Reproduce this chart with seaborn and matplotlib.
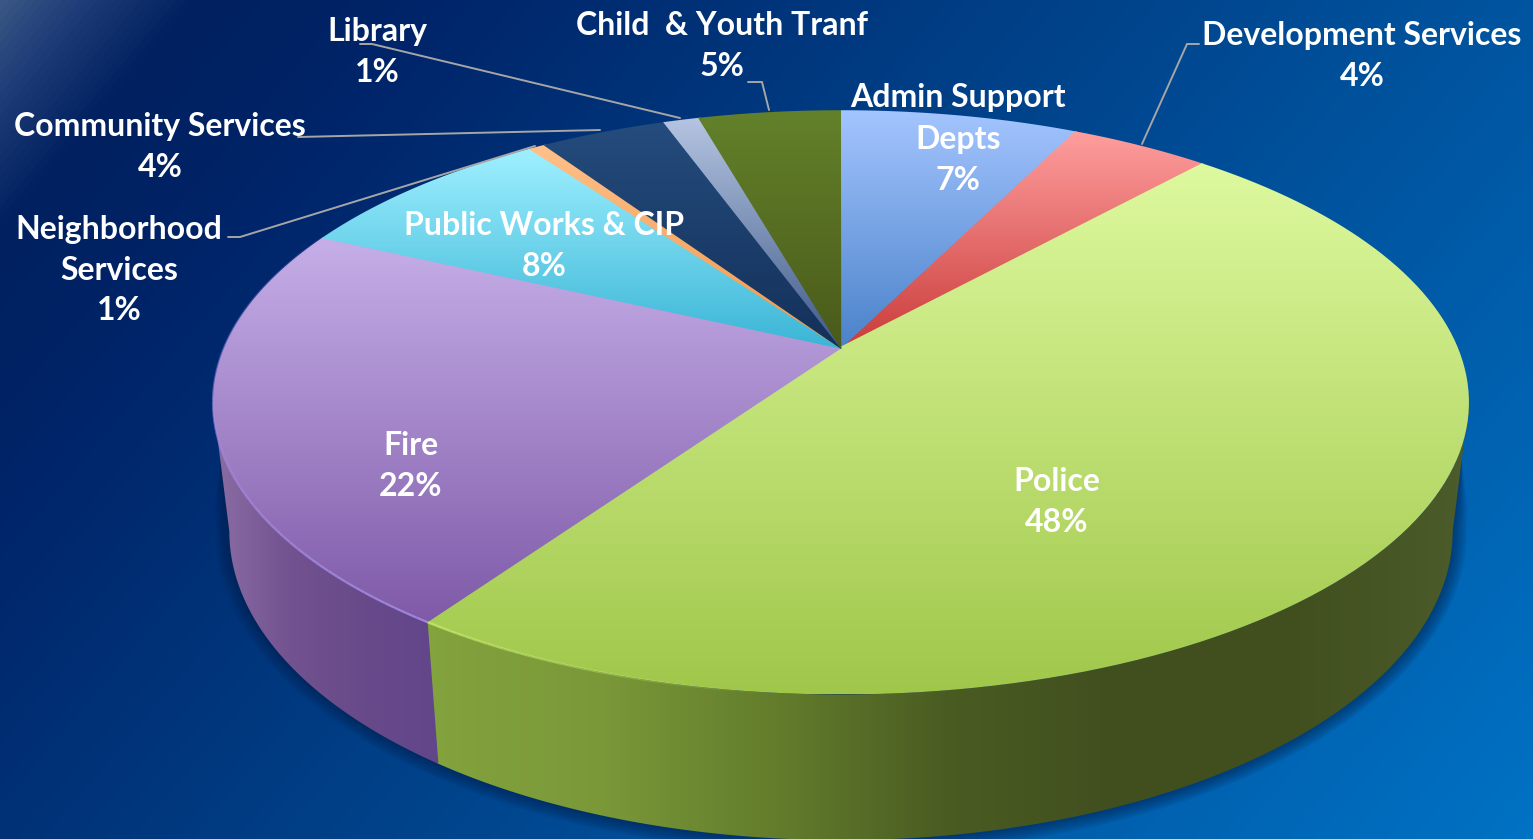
import numpy as np
import seaborn as sns
import matplotlib
matplotlib.use('Agg')
import matplotlib.pyplot as plt
from matplotlib.patches import Polygon
from matplotlib.colors import LinearSegmentedColormap

# slices, clockwise from 12 o'clock
depts = ['Admin Support\nDepts', 'Development Services', 'Police', 'Fire', 'Public Works & CIP',
         'Neighborhood\nServices', 'Community Services', 'Library', 'Child  & Youth Tranf']
shares = [7.3, 4.3, 48.0, 22.3, 8.2, 0.5, 3.9, 1.1, 4.4]
shown = ['7%', '4%', '48%', '22%', '8%', '1%', '4%', '1%', '5%']

# top gradient of each slice (top colour, bottom colour)
top_cols = [('#a4c5ff', '#4a82c9'), ('#ff9e9e', '#c93c3a'), ('#def99f', '#a0c74a'),
            ('#c6afe8', '#7f5aa8'), ('#9ff0ff', '#3ab5d6'), ('#ffc08a', '#f09848'),
            ('#244c7d', '#14305a'), ('#b5c5e2', '#3f5a88'), ('#63812a', '#4a5a1a')]

# label centres in pixels
label_xy = [(958, 139), (1362, 56), (1057, 502), (411, 466), (544, 246),
            (119, 270), (160, 147), (377, 52), (722, 46)]

# leader lines in pixels
leaders = [[(360, 44), (372, 44), (680, 118)],
           [(298, 137), (600, 130)],
           [(228, 237), (240, 237), (535, 146)],
           [(748, 82), (762, 82), (769, 110)],
           [(1199, 44), (1187, 44), (1142, 144)]]

W, H = 1533, 839
# perspective of the top and bottom discs
K = 0.186
TOP = dict(cx=841, cy=348, a=617, b=282)
BOT = dict(cx=841, cy=474, a=601, b=298)


def rim(t, d):
    # t is degrees clockwise from the back of the pie
    r = np.radians(t)
    w = 1 + K * np.cos(r)
    return d['cx'] + d['a'] * np.sin(r) / w, d['cy'] - d['b'] * np.cos(r) / w


def extreme_t(d, right=True):
    # angle where the disc reaches furthest left or right
    tt = np.linspace(0, 360, 1441)
    x, _ = rim(tt, d)
    return tt[np.argmax(x)] if right else tt[np.argmin(x)]


def grad_fill(ax, xs, ys, cols, vertical=True, z=2, span=None):
    # polygon filled with a gradient, image clipped to the outline
    cmap = sns.blend_palette(cols, 256, as_cmap=True)
    x0, x1, y0, y1 = min(xs), max(xs), min(ys), max(ys)
    ramp = np.linspace(0, 1, 256)
    if span is not None:
        lo, hi = span
        if vertical:
            ramp = np.clip((np.linspace(y0, y1, 256) - lo) / (hi - lo), 0, 1)
        else:
            ramp = np.clip((np.linspace(x0, x1, 256) - lo) / (hi - lo), 0, 1)
    arr = ramp[:, None] if vertical else ramp[None, :]
    im = ax.imshow(arr, extent=(x0, x1, y1, y0), cmap=cmap, vmin=0, vmax=1,
                   aspect='auto', zorder=z, interpolation='bilinear')
    p = Polygon(np.column_stack([xs, ys]), closed=True, transform=ax.transData, fill=False, lw=0)
    ax.add_patch(p)
    im.set_clip_path(p)


def fade_line(ax, t0, t1, color, a0, a1, lw=1.6):
    # rim highlight that fades from alpha a0 to a1
    steps = np.linspace(t0, t1, 41)
    alphas = np.linspace(a0, a1, 40)
    for s, e, al in zip(steps[:-1], steps[1:], alphas):
        x, y = rim(np.linspace(s, e, 6), TOP)
        ax.plot(x, y, color=color, lw=lw, alpha=al, zorder=4, solid_capstyle='butt')


sns.set_theme(style='white')
plt.rcParams['font.family'] = ['Lato', 'DejaVu Sans']

fig = plt.figure(figsize=(W / 100, H / 100), dpi=100)
ax = fig.add_axes([0, 0, 1, 1])

# background
yy, xx = np.mgrid[0:H, 0:W]
u = (xx + 0.85 * yy) / (W + 0.85 * H)
bg = LinearSegmentedColormap.from_list('bg', [(0, '#3a5684'), (0.03, '#22407a'), (0.085, '#00205f'),
                                              (0.2, '#00256a'), (0.45, '#003f86'), (1, '#0072c4')])
ax.imshow(u, extent=(0, W, H, 0), cmap=bg, vmin=0, vmax=1, aspect='auto', zorder=0)

edges = np.cumsum([0] + shares) / sum(shares) * 360
t_rt, t_rb = extreme_t(TOP), extreme_t(BOT)
t_lt, t_lb = extreme_t(TOP, False), extreme_t(BOT, False)

# soft shadow round the lower part of the pie
tt = np.linspace(t_rb, t_lb, 300)
bx, by = rim(tt, BOT)
ex, ey = 841, (rim(0, BOT)[1] + rim(180, BOT)[1]) / 2
xr_top, yr_top = rim(t_rt, TOP)
xl_top, yl_top = rim(t_lt, TOP)
for grow in np.arange(14, 0, -2):
    sx = ex + (bx - ex) * (1 + grow / 612)
    sy = ey + (by - ey) * (1 + grow / 309)
    # carry the shadow up the straight sides of the wall, tapering to nothing
    sx = np.r_[xr_top + (bx[0] - xr_top) * 0.45, xr_top + (bx[0] - xr_top) * 0.8 + grow * 0.8, sx,
               xl_top + (bx[-1] - xl_top) * 0.8 - grow * 0.8, xl_top + (bx[-1] - xl_top) * 0.45]
    sy = np.r_[yr_top + (by[0] - yr_top) * 0.45, yr_top + (by[0] - yr_top) * 0.8, sy,
               yl_top + (by[-1] - yl_top) * 0.8, yl_top + (by[-1] - yl_top) * 0.45]
    ax.fill(sx, sy, color='#001c45', alpha=0.09, lw=0, zorder=1)

# walls: inner edge follows the top rim, outer edge the bottom rim
police_end, fire_end = edges[3], edges[4]
t_in = np.linspace(t_rt, police_end + 0.2, 200)
t_out = np.linspace(police_end + 0.2, t_rb, 200)
x1, y1 = rim(t_in, TOP)
x2, y2 = rim(t_out, BOT)
grad_fill(ax, np.r_[x1, x2], np.r_[y1, y2],
          ['#83a33e', '#7a9838', '#637d2c', '#4a5c22', '#414f1f', '#414f1f', '#4c5b2a'],
          vertical=False, z=2, span=(428, 1460))
t_in = np.linspace(police_end, t_lt, 200)
t_out = np.linspace(t_lb, police_end, 200)
x1, y1 = rim(t_in, TOP)
x2, y2 = rim(t_out, BOT)
grad_fill(ax, np.r_[x1, x2], np.r_[y1, y2], ['#8a6ca4', '#72528f', '#684a8a', '#62468a'],
          vertical=False, z=2.1, span=(216, 440))

# top surface, each slice runs a touch under the next one so no seams show
for i in range(len(shares)):
    extra = 0.25 if i < len(shares) - 1 else 0
    t = np.linspace(edges[i], edges[i + 1] + extra, 120)
    x, y = rim(t, TOP)
    mid = np.radians((edges[i] + edges[i + 1]) / 2)
    xs = np.r_[TOP['cx'] - 1.5 * np.sin(mid), x]
    ys = np.r_[TOP['cy'] + 1.5 * np.cos(mid), y]
    grad_fill(ax, xs, ys, list(top_cols[i]), z=3 + i * 0.01)

# rim highlight along the front edge
fade_line(ax, police_end, 262, '#a98fe6', 0.85, 0.55)
fade_line(ax, 262, fire_end, '#a98fe6', 0.55, 0.1)
fade_line(ax, 185, police_end, '#cdee6e', 0.0, 0.8)

# leader lines
for pts in leaders:
    ax.plot(*zip(*pts), color='#a6a6a6', lw=1.4, zorder=5, solid_joinstyle='miter')

# labels
for name, pct, (lx, ly) in zip(depts, shown, label_xy):
    ax.text(lx, ly, name + '\n' + pct, color='white', fontsize=23, fontweight='bold',
            ha='center', va='center', linespacing=1.5, zorder=6)

ax.set_xlim(0, W)
ax.set_ylim(H, 0)
ax.axis('off')
fig.savefig('out.png', dpi=100)
